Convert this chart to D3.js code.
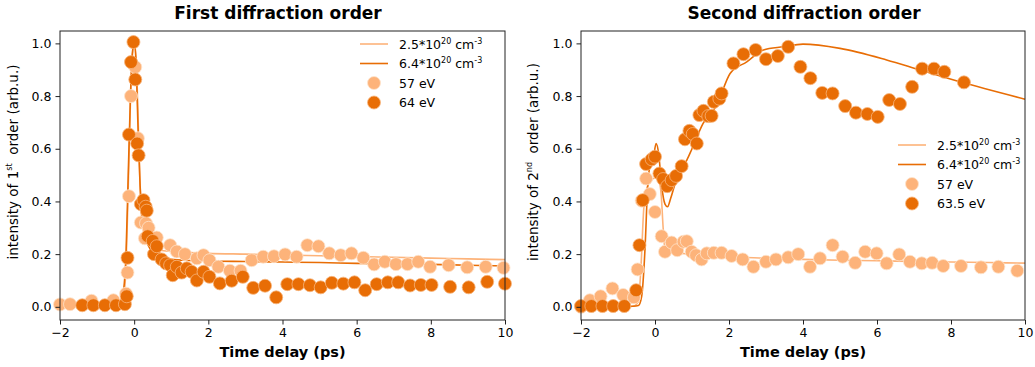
<!DOCTYPE html>
<html><head><meta charset="utf-8">
<script src="https://cdn.jsdelivr.net/npm/d3@7"></script>
<style>
body{margin:0;background:#fff;}
text{font-family:"DejaVu Sans",sans-serif;fill:#000;}
</style></head>
<body><svg id="c" width="1035" height="367"></svg>
<script>
const timeTicks = [-2,0,2,4,6,8,10];
const intensityTicks = [0,0.2,0.4,0.6,0.8,1.0];

// First order data
const f1_57_t = [-2.0,-1.73,-1.15,-0.56,-0.22,-0.18,-0.14,-0.085,0.03,0.10,0.18,0.29,0.32,0.39,0.61,0.97,1.15,1.37,1.69,1.87,2.03,2.27,2.58,2.87,3.17,3.48,3.77,4.07,4.38,4.67,4.97,5.26,5.57,5.86,6.18,6.47,6.76,7.06,7.37,7.66,7.98,8.48,8.98,9.48,9.96];
const f1_57_v = [0.009,0.01,0.023,0.025,0.05,0.13,0.42,0.80,0.91,0.64,0.32,0.26,0.317,0.30,0.263,0.234,0.21,0.20,0.184,0.196,0.177,0.152,0.137,0.137,0.177,0.19,0.192,0.199,0.19,0.234,0.23,0.203,0.196,0.203,0.186,0.161,0.171,0.162,0.162,0.171,0.152,0.158,0.15,0.152,0.148];
const f1_64_t = [-1.40,-1.10,-0.79,-0.49,-0.25,-0.20,-0.18,-0.14,-0.085,-0.02,0.03,0.08,0.12,0.18,0.25,0.31,0.34,0.365,0.50,0.535,0.61,0.74,0.86,0.97,1.04,1.15,1.28,1.42,1.55,1.69,1.87,2.03,2.31,2.63,2.93,3.21,3.53,3.83,4.13,4.43,4.74,5.03,5.33,5.64,5.94,6.23,6.54,6.84,7.12,7.44,7.73,8.02,8.52,9.02,9.52,10.0];
const f1_64_v = [0.006,0.006,0.006,0.006,0.01,0.04,0.186,0.654,0.929,1.005,0.863,0.62,0.575,0.39,0.405,0.38,0.365,0.268,0.25,0.20,0.23,0.18,0.165,0.158,0.12,0.152,0.13,0.146,0.133,0.10,0.133,0.114,0.089,0.099,0.114,0.072,0.08,0.036,0.086,0.086,0.082,0.074,0.091,0.088,0.093,0.063,0.086,0.093,0.093,0.081,0.083,0.083,0.076,0.074,0.095,0.088];
const f1_fitA_t = [-2,-1,-0.5,-0.35,-0.28,-0.22,-0.16,-0.1,-0.05,0,0.05,0.1,0.15,0.2,0.3,0.45,0.7,1.0,1.5,2,3,4,5,6,7,8,9,10];
const f1_fitA_v = [0.005,0.005,0.006,0.01,0.04,0.15,0.45,0.78,0.95,1.0,0.95,0.75,0.5,0.34,0.26,0.23,0.215,0.21,0.206,0.203,0.2,0.197,0.194,0.191,0.188,0.185,0.182,0.179];
const f1_fitB_t = [-2,-1,-0.5,-0.4,-0.3,-0.22,-0.16,-0.1,-0.05,0,0.05,0.1,0.16,0.27,0.43,0.7,1.0,1.5,2,3,4,5,6,7,8,9,10];
const f1_fitB_v = [0.005,0.005,0.006,0.01,0.05,0.2,0.5,0.8,0.96,1.0,0.93,0.7,0.46,0.29,0.22,0.19,0.18,0.176,0.174,0.172,0.17,0.168,0.165,0.163,0.161,0.158,0.155];

// Second order data
const f2_57_t = [-2.0,-1.76,-1.47,-1.15,-0.86,-0.57,-0.47,-0.36,-0.24,-0.14,0.0,0.18,0.27,0.45,0.60,0.77,0.86,0.99,1.11,1.26,1.40,1.59,1.80,2.07,2.37,2.66,3.0,3.27,3.60,3.87,4.19,4.46,4.80,5.07,5.41,5.68,5.99,6.26,6.60,6.89,7.21,7.49,7.79,8.27,8.81,9.28,9.79];
const f2_57_v = [0.0,0.025,0.04,0.07,0.045,0.036,0.142,0.403,0.487,0.428,0.36,0.268,0.209,0.244,0.215,0.247,0.249,0.209,0.196,0.18,0.203,0.205,0.205,0.193,0.18,0.152,0.171,0.18,0.188,0.2,0.152,0.184,0.234,0.19,0.167,0.209,0.203,0.165,0.199,0.171,0.165,0.167,0.155,0.155,0.15,0.152,0.137];
const f2_635_t = [-2.0,-1.72,-1.42,-1.13,-0.83,-0.51,-0.42,-0.33,-0.24,-0.09,0.0,0.12,0.22,0.33,0.45,0.57,0.72,0.81,0.93,1.02,1.13,1.20,1.31,1.44,1.53,1.59,1.74,1.80,2.12,2.39,2.72,3.0,3.32,3.60,3.93,4.20,4.52,4.80,5.14,5.43,5.74,6.02,6.33,6.62,6.95,7.22,7.54,7.82,8.35];
const f2_635_v = [0.003,0.003,0.003,0.003,0.003,0.063,0.234,0.405,0.542,0.56,0.57,0.506,0.485,0.458,0.481,0.497,0.534,0.636,0.668,0.656,0.62,0.728,0.744,0.724,0.725,0.778,0.79,0.81,0.924,0.959,0.975,0.94,0.952,0.987,0.911,0.868,0.812,0.81,0.762,0.737,0.732,0.721,0.785,0.77,0.835,0.904,0.904,0.892,0.852];
const f2_fitA_t = [-2,-1,-0.6,-0.45,-0.38,-0.3,-0.2,-0.1,0,0.1,0.17,0.22,0.27,0.35,0.5,1,2,3,4,5,6,7,8,9,10];
const f2_fitA_v = [0,0,0.002,0.02,0.15,0.38,0.46,0.48,0.49,0.48,0.42,0.3,0.22,0.21,0.205,0.2,0.19,0.185,0.18,0.177,0.175,0.172,0.17,0.168,0.166];
const f2_fitB_t = [-2,-1,-0.6,-0.45,-0.36,-0.27,-0.2,-0.13,-0.05,0.03,0.1,0.18,0.27,0.34,0.42,0.55,0.7,0.86,1.0,1.3,1.67,2.03,2.48,2.93,3.47,4.0,5.0,6.26,7.16,8.24,10];
const f2_fitB_v = [0,0,0.002,0.005,0.04,0.22,0.45,0.54,0.56,0.62,0.58,0.46,0.39,0.38,0.41,0.47,0.52,0.557,0.6,0.696,0.766,0.886,0.93,0.975,0.987,0.997,0.981,0.937,0.899,0.854,0.788];

const cLight = "#fdb37a", cDark = "#e86d05";
const svg = d3.select("#c");

function panel(opt){
  const x = d3.scaleLinear().domain([-2,10]).range([opt.x0, opt.x1]);
  const y = d3.scaleLinear().domain([-0.05,1.047]).range([320,31]);
  const g = svg.append("g");
  const line = d3.line().x(d=>x(d[0])).y(d=>y(d[1])).curve(d3.curveMonotoneX);
  const zip = (a,b)=>a.map((v,i)=>[v,b[i]]);
  g.append("path").datum(zip(opt.fitA_t,opt.fitA_v)).attr("d",line).attr("fill","none").attr("stroke",cLight).attr("stroke-width",1.6);
  g.append("path").datum(zip(opt.fitB_t,opt.fitB_v)).attr("d",line).attr("fill","none").attr("stroke",cDark).attr("stroke-width",1.6);
  g.selectAll(".pa").data(zip(opt.pA_t,opt.pA_v)).join("circle").attr("cx",d=>x(d[0])).attr("cy",d=>y(d[1])).attr("r",6.5).attr("fill",cLight).attr("stroke","#fee3cc").attr("stroke-width",0.8);
  g.selectAll(".pb").data(zip(opt.pB_t,opt.pB_v)).join("circle").attr("cx",d=>x(d[0])).attr("cy",d=>y(d[1])).attr("r",6.5).attr("fill",cDark).attr("stroke","#f7b57c").attr("stroke-width",0.8);
  g.append("rect").attr("x",opt.x0).attr("y",31).attr("width",opt.x1-opt.x0).attr("height",289).attr("fill","none").attr("stroke","#222").attr("stroke-width",1);
  const ax = g.append("g").attr("transform","translate(0,320)").call(d3.axisBottom(x).tickValues(timeTicks).tickFormat(d=>d<0?"\u2212"+Math.abs(d):d).tickSize(4.5).tickPadding(4));
  const ay = g.append("g").attr("transform",`translate(${opt.x0},0)`).call(d3.axisLeft(y).tickValues(intensityTicks).tickFormat(d3.format(".1f")).tickSize(4.5).tickPadding(4));
  [ax,ay].forEach(a=>{a.select(".domain").remove(); a.selectAll("text").style("font-family","DejaVu Sans").style("font-size","12.5px").attr("fill","#000"); a.selectAll("line").attr("stroke","#222");});
  g.append("text").attr("x",opt.titleX).attr("y",19).attr("text-anchor","middle").style("font-weight","bold").style("font-size","17px").text(opt.title);
  g.append("text").attr("x",(opt.x0+opt.x1)/2).attr("y",357).attr("text-anchor","middle").style("font-weight","bold").style("font-size","14.5px").text("Time delay (ps)");
  const yl = g.append("text").attr("transform",`translate(${opt.ylx},${opt.yly}) rotate(-90)`).attr("text-anchor","middle").style("font-size","13.5px");
  yl.append("tspan").text("intensity of "+opt.ordNum);
  yl.append("tspan").attr("dy",-6).style("font-size","8px").text(opt.ordSup);
  yl.append("tspan").attr("dy",6).text("\u00a0\u00a0order (arb.u.)");
  const L = opt.leg;
  const rows = [
    {type:"line",c:cLight,t:["2.5*10","20"," cm","-3"]},
    {type:"line",c:cDark,t:["6.4*10","20"," cm","-3"]},
    {type:"dot",c:cLight,t:[opt.labA]},
    {type:"dot",c:cDark,t:[opt.labB]}];
  rows.forEach((r,i)=>{
    const yy = L.y + i*L.dy;
    if(r.type==="line") g.append("line").attr("x1",L.x).attr("x2",L.x+28).attr("y1",yy).attr("y2",yy).attr("stroke",r.c).attr("stroke-width",1.6);
    else g.append("circle").attr("cx",L.x+14).attr("cy",yy).attr("r",6.5).attr("fill",r.c).attr("stroke",i===3?"#f7b57c":"#fee3cc").attr("stroke-width",0.8);
    const t = g.append("text").attr("x",L.x+39).attr("y",yy+4.5).style("font-size","12.5px");
    if(r.t.length===1) t.text(r.t[0]);
    else {
      t.append("tspan").text(r.t[0]);
      t.append("tspan").attr("dy",-5).style("font-size","8px").text(r.t[1]);
      t.append("tspan").attr("dy",5).text(r.t[2]);
      t.append("tspan").attr("dy",-5).style("font-size","8px").text(r.t[3]);
    }
  });
}

panel({x0:60,x1:505,title:"First diffraction order",titleX:278,ylx:18,yly:162,ordNum:"1",ordSup:"st",
  pA_t:f1_57_t,pA_v:f1_57_v,pB_t:f1_64_t,pB_v:f1_64_v,fitA_t:f1_fitA_t,fitA_v:f1_fitA_v,fitB_t:f1_fitB_t,fitB_v:f1_fitB_v,
  labA:"57 eV",labB:"64 eV",leg:{x:360,y:44,dy:19.5}});
panel({x0:581,x1:1025,title:"Second diffraction order",titleX:804,ylx:538,yly:162,ordNum:"2",ordSup:"nd",
  pA_t:f2_57_t,pA_v:f2_57_v,pB_t:f2_635_t,pB_v:f2_635_v,fitA_t:f2_fitA_t,fitA_v:f2_fitA_v,fitB_t:f2_fitB_t,fitB_v:f2_fitB_v,
  labA:"57 eV",labB:"63.5 eV",leg:{x:898,y:145,dy:19.5}});
</script></body></html>
